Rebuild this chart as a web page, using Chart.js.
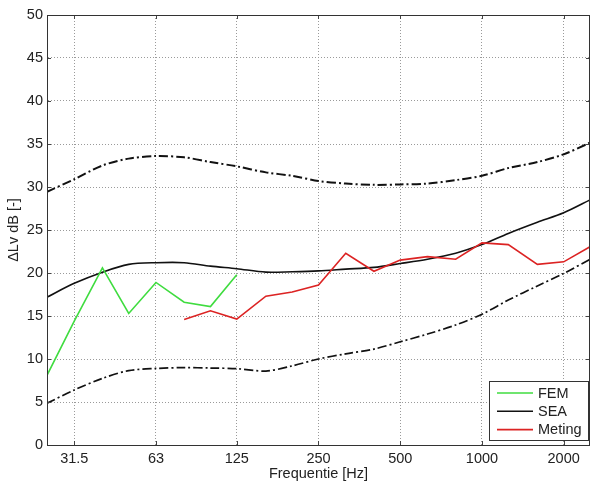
<!DOCTYPE html>
<html>
<head>
<meta charset="utf-8">
<script src="https://cdn.jsdelivr.net/npm/chart.js@4/dist/chart.umd.min.js"></script>
<style>
  html, body { margin: 0; padding: 0; background: #ffffff; overflow: hidden; }
  #wrap { width: 590px; height: 483px; }
</style>
</head>
<body>
<div id="wrap"><canvas id="c" width="590" height="483"></canvas></div>
<script>
// ---- data ----
const freqs = [25, 31.5, 40, 50, 63, 80, 100, 125, 160, 200, 250, 315, 400, 500, 630, 800, 1000, 1250, 1600, 2000, 2500];
const sea   = [17.2, 18.8, 20.1, 21.0, 21.2, 21.2, 20.8, 20.5, 20.1, 20.15, 20.25, 20.45, 20.65, 21.1, 21.6, 22.3, 23.3, 24.6, 25.9, 27.0, 28.5];
const upperBound = [29.45, 30.9, 32.5, 33.3, 33.6, 33.45, 32.9, 32.4, 31.7, 31.3, 30.7, 30.4, 30.25, 30.3, 30.4, 30.8, 31.3, 32.2, 32.9, 33.8, 35.15];
const lowerBound = [4.85, 6.4, 7.75, 8.65, 8.9, 9.0, 8.95, 8.88, 8.6, 9.2, 10.0, 10.6, 11.15, 12.0, 12.9, 13.95, 15.2, 16.85, 18.5, 19.95, 21.6];
const femFreqs = [25, 31.5, 40, 50, 63, 80, 100, 125];
const fem      = [8.1, 14.4, 20.6, 15.3, 18.9, 16.6, 16.1, 19.8];
const metingFreqs = [80, 100, 125, 160, 200, 250, 315, 400, 500, 630, 800, 1000, 1250, 1600, 2000, 2500];
const meting      = [14.6, 15.6, 14.65, 17.3, 17.8, 18.6, 22.3, 20.2, 21.5, 21.9, 21.6, 23.5, 23.3, 21.0, 21.3, 23.05];
const xTickValues = [31.5, 63, 125, 250, 500, 1000, 2000];
const xTickLabels = ['31.5', '63', '125', '250', '500', '1000', '2000'];
const yTickValues = [0, 5, 10, 15, 20, 25, 30, 35, 40, 45, 50];
const seriesNames = ['FEM', 'SEA', 'Meting'];

const pts = (xs, ys) => xs.map((x, i) => ({ x: x, y: ys[i] }));

const FONT = "'Liberation Sans', Arial, sans-serif";
const TEXT = '#222222';
const GREEN = '#3fdc3f';
const BLACK = '#111111';
const RED = '#dc2323';
const GRID = '#9a9a9a';

const frameTicks = {
  id: 'frameTicks',
  afterDatasetsDraw(chart) {
    const { ctx, chartArea: a, scales } = chart;
    ctx.save();
    ctx.setLineDash([]);
    ctx.strokeStyle = '#444';
    ctx.lineWidth = 1;
    ctx.beginPath();
    const L = 4;
    xTickValues.forEach(v => {
      const px = Math.round(scales.x.getPixelForValue(v)) + 0.5;
      ctx.moveTo(px, a.bottom); ctx.lineTo(px, a.bottom - L);
      ctx.moveTo(px, a.top); ctx.lineTo(px, a.top + L);
    });
    yTickValues.forEach(v => {
      const py = Math.round(scales.y.getPixelForValue(v)) + 0.5;
      ctx.moveTo(a.left, py); ctx.lineTo(a.left + L, py);
      ctx.moveTo(a.right, py); ctx.lineTo(a.right - L, py);
    });
    ctx.stroke();
    ctx.strokeStyle = '#333';
    ctx.strokeRect(Math.round(a.left) + 0.5, Math.round(a.top) + 0.5, Math.round(a.right - a.left) - 1, Math.round(a.bottom - a.top));
    ctx.restore();
  }
};

const boxLegend = {
  id: 'boxLegend',
  afterDraw(chart) {
    const { ctx, chartArea: a } = chart;
    const w = 99, h = 59;
    const x0 = a.right - 2 - w, y0 = a.bottom - 5 - h;
    ctx.save();
    ctx.setLineDash([]);
    ctx.fillStyle = '#ffffff';
    ctx.fillRect(x0, y0, w, h);
    ctx.strokeStyle = '#333';
    ctx.lineWidth = 1;
    ctx.strokeRect(Math.round(x0) + 0.5, Math.round(y0) + 0.5, w, h);
    const cols = [GREEN, BLACK, RED];
    ctx.font = '14.5px ' + FONT;
    ctx.textBaseline = 'middle';
    ctx.textAlign = 'left';
    seriesNames.forEach((name, i) => {
      const yy = y0 + 12 + i * 18.3;
      ctx.strokeStyle = cols[i];
      ctx.lineWidth = 1.6;
      ctx.beginPath();
      ctx.moveTo(x0 + 8, yy); ctx.lineTo(x0 + 44, yy);
      ctx.stroke();
      ctx.fillStyle = TEXT;
      ctx.fillText(name, x0 + 49, yy + 0.5);
    });
    ctx.restore();
  }
};

const dashDot = [9, 3, 2, 3];

new Chart(document.getElementById('c'), {
  type: 'line',
  data: {
    datasets: [
      { label: seriesNames[0], data: pts(femFreqs, fem), borderColor: GREEN, borderWidth: 1.6, pointRadius: 0, tension: 0, order: 1 },
      { label: seriesNames[1], data: pts(freqs, sea), borderColor: BLACK, borderWidth: 1.6, pointRadius: 0, tension: 0.3, order: 2 },
      { label: seriesNames[2], data: pts(metingFreqs, meting), borderColor: RED, borderWidth: 1.6, pointRadius: 0, tension: 0, order: 0 },
      { label: 'upper', data: pts(freqs, upperBound), borderColor: BLACK, borderWidth: 2, borderDash: dashDot, pointRadius: 0, tension: 0.3, order: 3 },
      { label: 'lower', data: pts(freqs, lowerBound), borderColor: BLACK, borderWidth: 1.7, borderDash: dashDot, pointRadius: 0, tension: 0.3, order: 4 }
    ]
  },
  options: {
    responsive: false,
    animation: false,
    devicePixelRatio: 1,
    layout: { padding: { left: 0, top: 15, right: 0, bottom: 0 } },
    plugins: { legend: { display: false }, tooltip: { enabled: false } },
    scales: {
      x: {
        type: 'logarithmic',
        min: 25,
        max: 2500,
        afterBuildTicks: (scale) => { scale.ticks = xTickValues.map(v => ({ value: v })); },
        afterFit: (scale) => { scale.height = 38; },
        ticks: {
          autoSkip: false,
          maxRotation: 0,
          padding: 5,
          color: TEXT,
          font: { family: FONT, size: 14.5 },
          callback: (v) => { const i = xTickValues.indexOf(v); return i >= 0 ? xTickLabels[i] : ''; }
        },
        grid: { color: GRID, lineWidth: 1, drawTicks: false },
        border: { display: true, color: '#333', dash: [1, 2], width: 1 },
        title: { display: true, text: 'Frequentie [Hz]', color: TEXT, font: { family: FONT, size: 14.5 }, padding: { top: 0, bottom: 0 } }
      },
      y: {
        min: 0,
        max: 50,
        afterBuildTicks: (scale) => { scale.ticks = yTickValues.map(v => ({ value: v })); },
        afterFit: (scale) => { scale.width = 47; },
        ticks: { padding: 4, color: TEXT, font: { family: FONT, size: 14.5 } },
        grid: { color: GRID, lineWidth: 1, drawTicks: false },
        border: { display: true, color: '#333', dash: [1, 2], width: 1 },
        title: { display: true, text: 'ΔLv dB [-]', color: TEXT, font: { family: FONT, size: 14.5 }, padding: { top: 5, bottom: 0 } }
      }
    }
  },
  plugins: [frameTicks, boxLegend]
});
</script>
</body>
</html>
